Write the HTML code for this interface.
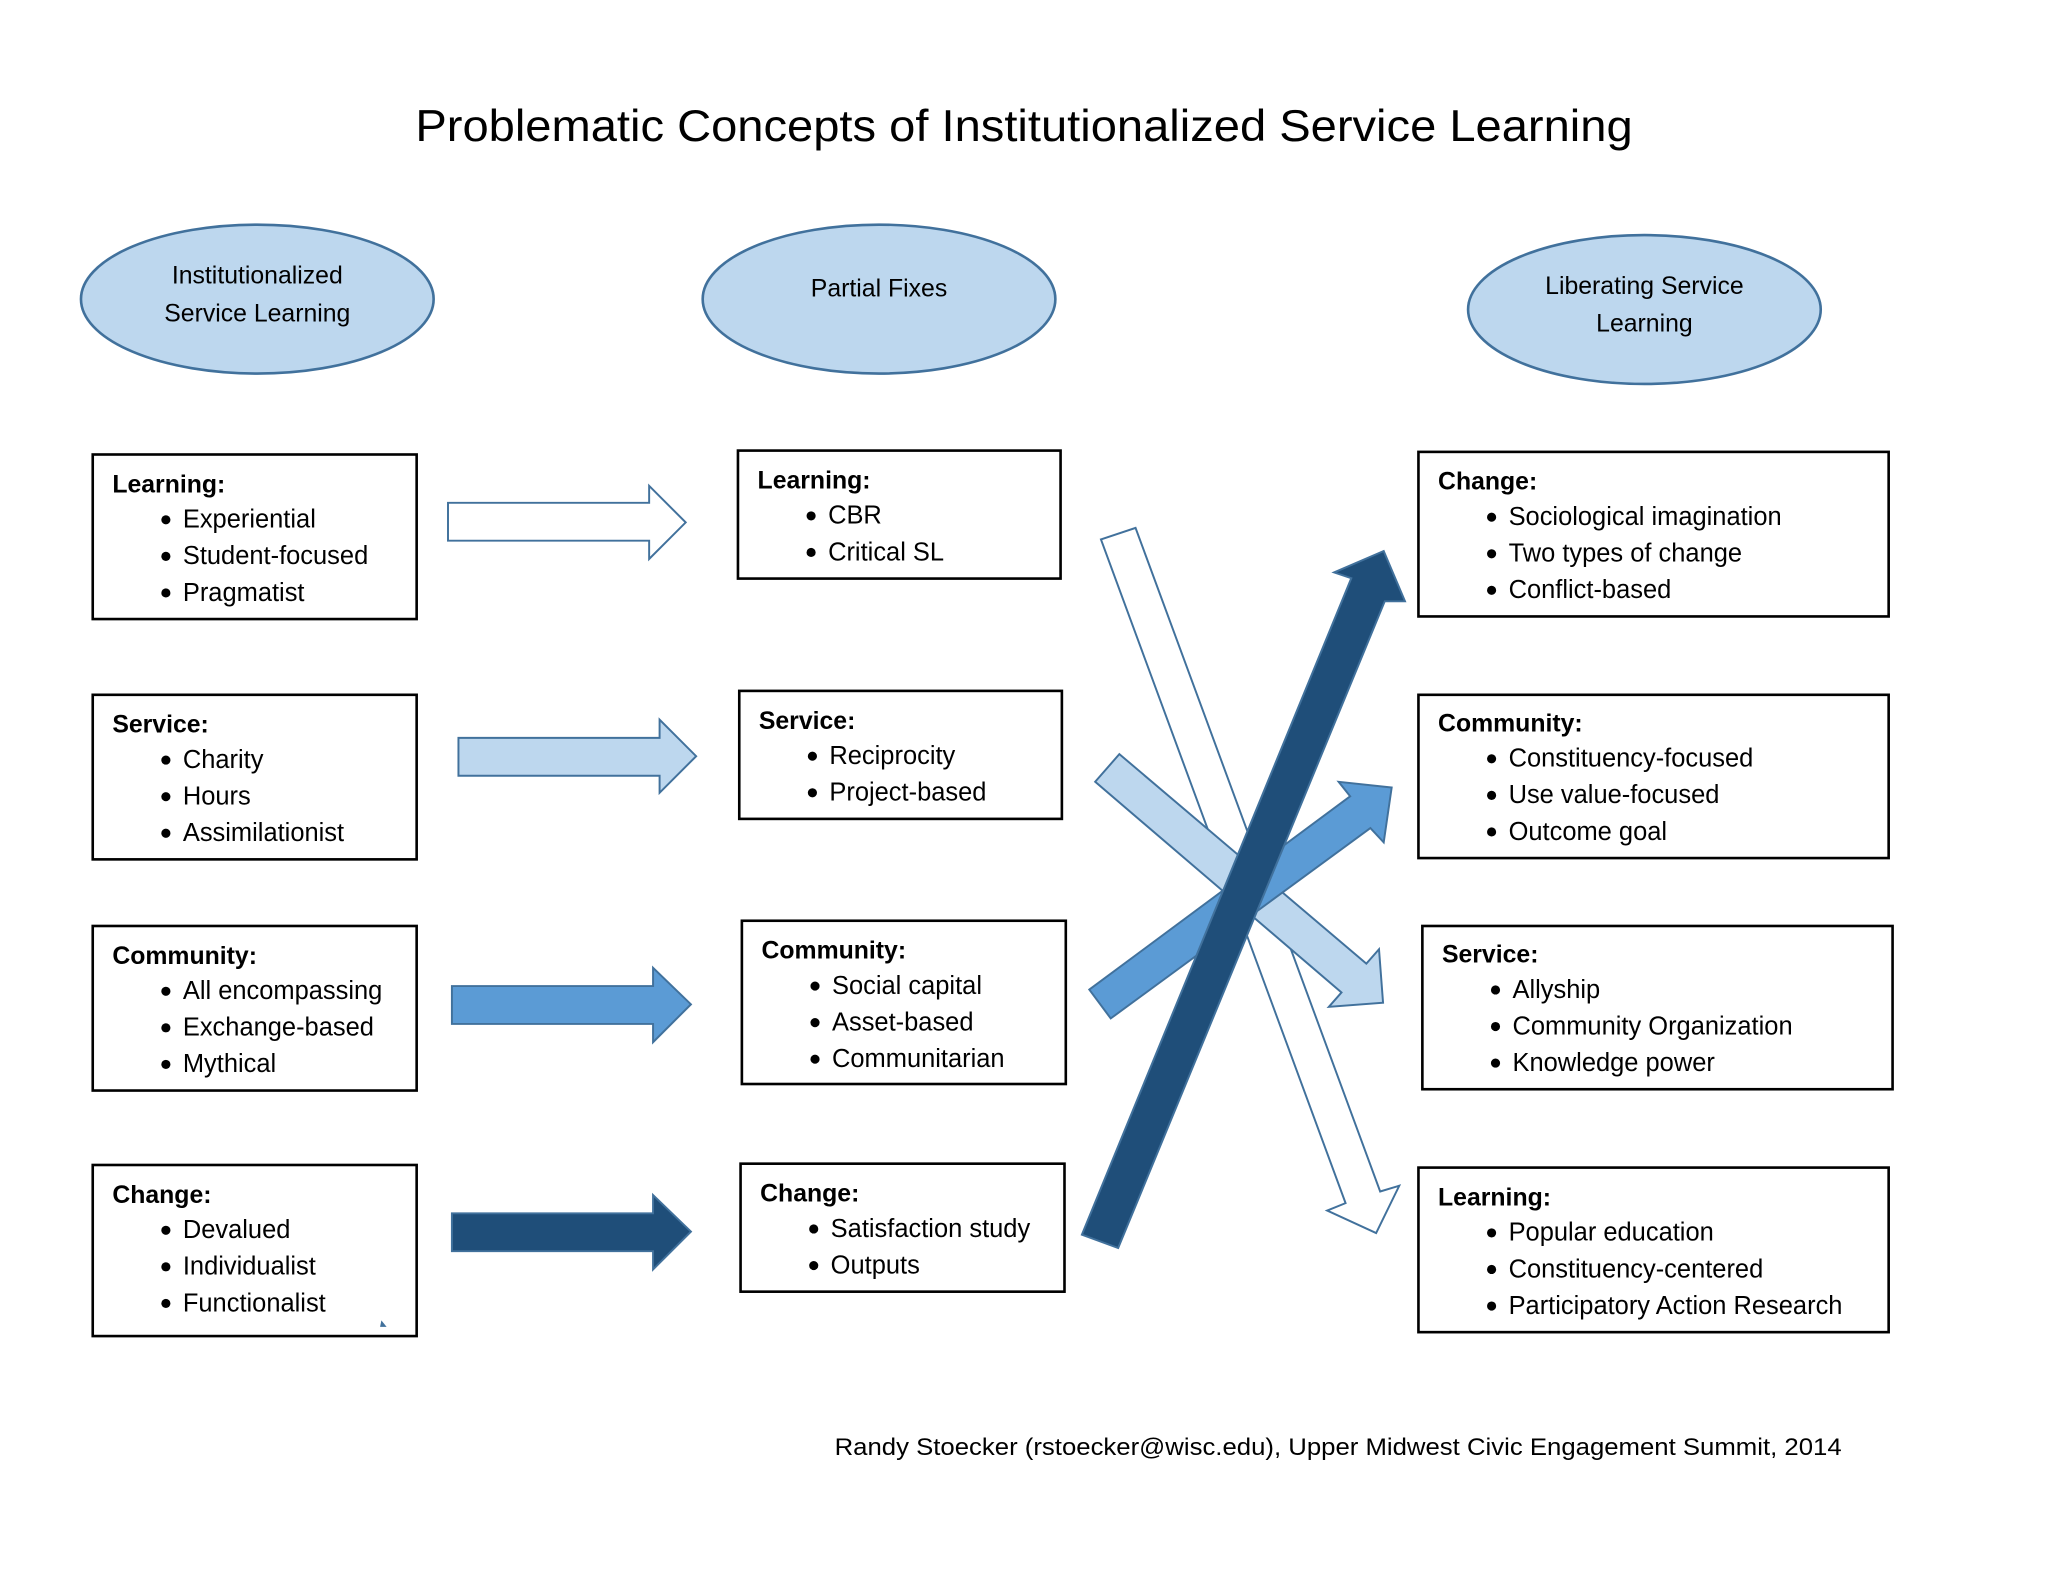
<!DOCTYPE html>
<html><head><meta charset="utf-8"><style>
html,body{margin:0;padding:0;background:#fff;}
svg{display:block;}
text{font-family:"Liberation Sans",sans-serif;fill:#000;}
.h{font-weight:bold;font-size:19px;}
.b{font-size:19.5px;}
.e{font-size:19px;}
</style></head><body>
<svg width="2048" height="1582" viewBox="0 0 1568 1211.3" preserveAspectRatio="none" xmlns="http://www.w3.org/2000/svg">
<rect width="1568" height="1212" fill="#fff"/>
<text x="784" y="108" font-size="34" text-anchor="middle" textLength="932" lengthAdjust="spacingAndGlyphs">Problematic Concepts of Institutionalized Service Learning</text>

<g fill="#bdd7ee" stroke="#41719c" stroke-width="2">
<ellipse cx="197" cy="229" rx="135" ry="57"/>
<ellipse cx="673" cy="229" rx="135" ry="57"/>
<ellipse cx="1259" cy="237" rx="135" ry="57"/>
</g>
<text class="e" x="197" y="217" text-anchor="middle">Institutionalized</text>
<text class="e" x="197" y="246" text-anchor="middle">Service Learning</text>
<text class="e" x="673" y="227" text-anchor="middle">Partial Fixes</text>
<text class="e" x="1259" y="225" text-anchor="middle">Liberating Service</text>
<text class="e" x="1259" y="254" text-anchor="middle">Learning</text>

<g fill="#fff" stroke="#000" stroke-width="2">
<rect x="71" y="348" width="248" height="126"/>
<rect x="71" y="532" width="248" height="126"/>
<rect x="71" y="709" width="248" height="126"/>
<rect x="71" y="892" width="248" height="131"/>
<rect x="565" y="345" width="247" height="98"/>
<rect x="566" y="529" width="247" height="98"/>
<rect x="568" y="705" width="248" height="125"/>
<rect x="567" y="891" width="248" height="98"/>
<rect x="1086" y="346" width="360" height="126"/>
<rect x="1086" y="532" width="360" height="125"/>
<rect x="1089" y="709" width="360" height="125"/>
<rect x="1086" y="894" width="360" height="126"/>
</g>
<path d="M291 1016 L296 1016 L292 1011 Z" fill="#41719c"/>

<g>
<text class="h" x="86" y="377">Learning:</text>
<circle cx="127" cy="398" r="3.5"/><text class="b" x="140" y="404">Experiential</text>
<circle cx="127" cy="426" r="3.5"/><text class="b" x="140" y="432">Student-focused</text>
<circle cx="127" cy="454" r="3.5"/><text class="b" x="140" y="460">Pragmatist</text>

<text class="h" x="86" y="561">Service:</text>
<circle cx="127" cy="582" r="3.5"/><text class="b" x="140" y="588">Charity</text>
<circle cx="127" cy="610" r="3.5"/><text class="b" x="140" y="616">Hours</text>
<circle cx="127" cy="638" r="3.5"/><text class="b" x="140" y="644">Assimilationist</text>

<text class="h" x="86" y="738">Community:</text>
<circle cx="127" cy="759" r="3.5"/><text class="b" x="140" y="765">All encompassing</text>
<circle cx="127" cy="787" r="3.5"/><text class="b" x="140" y="793">Exchange-based</text>
<circle cx="127" cy="815" r="3.5"/><text class="b" x="140" y="821">Mythical</text>

<text class="h" x="86" y="921">Change:</text>
<circle cx="127" cy="942" r="3.5"/><text class="b" x="140" y="948">Devalued</text>
<circle cx="127" cy="970" r="3.5"/><text class="b" x="140" y="976">Individualist</text>
<circle cx="127" cy="998" r="3.5"/><text class="b" x="140" y="1004">Functionalist</text>

<text class="h" x="580" y="374">Learning:</text>
<circle cx="621" cy="395" r="3.5"/><text class="b" x="634" y="401">CBR</text>
<circle cx="621" cy="423" r="3.5"/><text class="b" x="634" y="429">Critical SL</text>

<text class="h" x="581" y="558">Service:</text>
<circle cx="622" cy="579" r="3.5"/><text class="b" x="635" y="585">Reciprocity</text>
<circle cx="622" cy="607" r="3.5"/><text class="b" x="635" y="613">Project-based</text>

<text class="h" x="583" y="734">Community:</text>
<circle cx="624" cy="755" r="3.5"/><text class="b" x="637" y="761">Social capital</text>
<circle cx="624" cy="783" r="3.5"/><text class="b" x="637" y="789">Asset-based</text>
<circle cx="624" cy="811" r="3.5"/><text class="b" x="637" y="817">Communitarian</text>

<text class="h" x="582" y="920">Change:</text>
<circle cx="623" cy="941" r="3.5"/><text class="b" x="636" y="947">Satisfaction study</text>
<circle cx="623" cy="969" r="3.5"/><text class="b" x="636" y="975">Outputs</text>

<text class="h" x="1101" y="375">Change:</text>
<circle cx="1142" cy="396" r="3.5"/><text class="b" x="1155" y="402">Sociological imagination</text>
<circle cx="1142" cy="424" r="3.5"/><text class="b" x="1155" y="430">Two types of change</text>
<circle cx="1142" cy="452" r="3.5"/><text class="b" x="1155" y="458">Conflict-based</text>

<text class="h" x="1101" y="560">Community:</text>
<circle cx="1142" cy="581" r="3.5"/><text class="b" x="1155" y="587">Constituency-focused</text>
<circle cx="1142" cy="609" r="3.5"/><text class="b" x="1155" y="615">Use value-focused</text>
<circle cx="1142" cy="637" r="3.5"/><text class="b" x="1155" y="643">Outcome goal</text>

<text class="h" x="1104" y="737">Service:</text>
<circle cx="1145" cy="758" r="3.5"/><text class="b" x="1158" y="764">Allyship</text>
<circle cx="1145" cy="786" r="3.5"/><text class="b" x="1158" y="792">Community Organization</text>
<circle cx="1145" cy="814" r="3.5"/><text class="b" x="1158" y="820">Knowledge power</text>

<text class="h" x="1101" y="923">Learning:</text>
<circle cx="1142" cy="944" r="3.5"/><text class="b" x="1155" y="950">Popular education</text>
<circle cx="1142" cy="972" r="3.5"/><text class="b" x="1155" y="978">Constituency-centered</text>
<circle cx="1142" cy="1000" r="3.5"/><text class="b" x="1155" y="1006">Participatory Action Research</text>
</g>

<g stroke="#41719c" stroke-width="1.5">
<polygon points="343,385 497,385 497,372 525,400 497,428 497,414 343,414" fill="#fff"/>
<polygon points="351,565 505,565 505,551 533,579 505,607 505,594 351,594" fill="#bdd7ee"/>
<polygon points="346,755 500,755 500,741 529,769 500,798 500,784 346,784" fill="#5b9bd5"/>
<polygon points="346,929 500,929 500,915 529,943 500,972 500,958 346,958" fill="#1f4e79"/>
</g>

<g stroke="#41719c" stroke-width="1.5">
<polygon points="842.9,413 869.4,404.2 1056.7,912.3 1071.3,907.9 1053.6,944.1 1016.1,926.9 1030.2,921.2" fill="#fff"/>
<polygon points="838.5,598.6 857,577.4 1046.1,737.8 1055.8,726.8 1058.9,767.8 1017.4,770.9 1027.1,759.9" fill="#bdd7ee"/>
<polygon points="834,757.7 1033.7,609.7 1024.9,598.6 1065.5,603 1059.4,645 1049.2,634 850.4,779.8" fill="#5b9bd5"/>
<polygon points="828.3,945.4 1034.6,442.7 1021.4,438.3 1059.4,421.9 1075.7,460.4 1060.2,460.4 856.1,955.6" fill="#1f4e79"/>
</g>

<text x="639" y="1114" font-size="18.5" textLength="771" lengthAdjust="spacingAndGlyphs">Randy Stoecker (rstoecker@wisc.edu), Upper Midwest Civic Engagement Summit, 2014</text>
</svg>
</body></html>
